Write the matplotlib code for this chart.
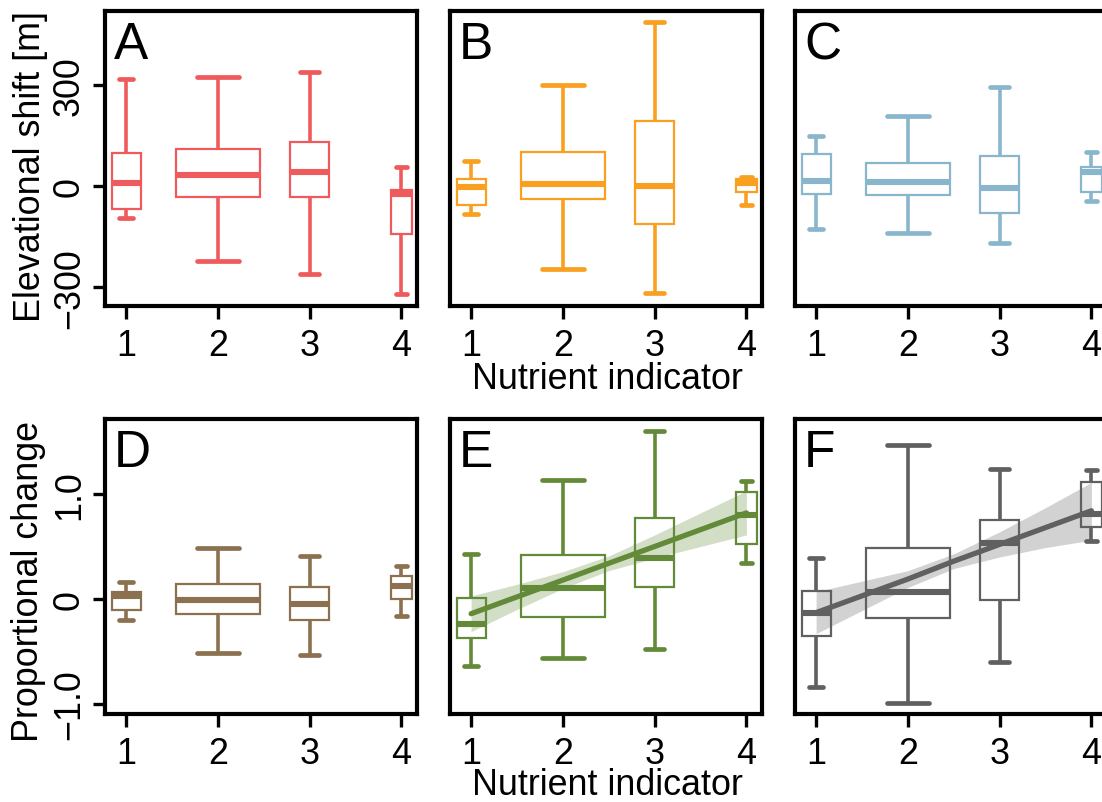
import matplotlib
matplotlib.use("Agg")
import matplotlib.pyplot as plt

plt.rcParams['font.family'] = ['Liberation Sans', 'DejaVu Sans']

# nutrient indicator classes (x axis)
nutrient = [1, 2, 3, 4]

# five-number summaries per class: [whisker low, q1, median, q3, whisker high]
# top row: elevational shift [m]
shift_a = [[-95, -68, 9, 98, 318],
           [-222, -33, 33, 110, 325],
           [-261, -33, 43, 132, 340],
           [-320, -143, -22, -11, 56]]
shift_b = [[-83, -56, -3, 21, 75],
           [-247, -39, 6, 102, 301],
           [-316, -113, -1, 192, 488],
           [-56, -17, 10, 20, 26]]
shift_c = [[-126, -24, 16, 95, 149],
           [-140, -26, 11, 70, 207],
           [-169, -80, -6, 88, 295],
           [-45, -16, 41, 56, 100]]

# bottom row: proportional change
prop_d = [[-0.20, -0.10, 0.03, 0.07, 0.165],
          [-0.51, -0.14, -0.01, 0.14, 0.49],
          [-0.53, -0.20, -0.05, 0.11, 0.41],
          [-0.16, 0.00, 0.12, 0.22, 0.31]]
prop_e = [[-0.64, -0.37, -0.24, 0.01, 0.43],
          [-0.56, -0.17, 0.105, 0.42, 1.13],
          [-0.48, 0.11, 0.39, 0.77, 1.60],
          [0.34, 0.52, 0.80, 1.02, 1.12]]
prop_f = [[-0.84, -0.35, -0.13, 0.08, 0.39],
          [-0.99, -0.18, 0.07, 0.49, 1.47],
          [-0.60, -0.01, 0.53, 0.755, 1.24],
          [0.55, 0.69, 0.81, 1.11, 1.23]]

# linear fits with confidence band (E and F)
fit_x = [1, 1.5, 2, 2.5, 3, 3.5, 4]
fit_e = [-0.14, 0.02, 0.18, 0.34, 0.50, 0.66, 0.82]
fit_e_lo = [-0.31, -0.10, 0.10, 0.27, 0.39, 0.50, 0.61]
fit_e_hi = [0.03, 0.14, 0.26, 0.41, 0.61, 0.82, 1.03]
fit_f = [-0.13, 0.03, 0.19, 0.36, 0.52, 0.68, 0.84]
fit_f_lo = [-0.33, -0.11, 0.11, 0.29, 0.40, 0.49, 0.56]
fit_f_hi = [0.07, 0.17, 0.27, 0.43, 0.64, 0.87, 1.11]

# box widths (varwidth look)
box_w = [0.315, 0.915, 0.425, 0.225]

FS = 25.8
W, H = 1102, 803
fig = plt.figure(figsize=(W / 100, H / 100), dpi=100)

def px_axes(left, top, right, bottom):
    return fig.add_axes([left / W, 1 - bottom / H, (right - left) / W, (bottom - top) / H])

def draw_panel(ax, data, color, letter, ylim):
    stats = [dict(whislo=s[0], q1=s[1], med=s[2], q3=s[3], whishi=s[4], fliers=[]) for s in data]
    ax.bxp(stats, positions=nutrient, widths=box_w, capwidths=[w / 2 for w in box_w],
           patch_artist=True, showfliers=False,
           boxprops=dict(edgecolor=color, facecolor='white', linewidth=1.6),
           whiskerprops=dict(color=color, linewidth=2.6, solid_capstyle='butt'),
           capprops=dict(color=color, linewidth=3.4, solid_capstyle='round'),
           medianprops=dict(color=color, linewidth=4.4, solid_capstyle='butt'))
    ax.set_xlim(0.77, 4.17)
    ax.set_ylim(*ylim)
    ax.set_xticks(nutrient)
    ax.set_xticklabels([str(n) for n in nutrient])
    ax.tick_params(axis='x', length=9, width=2.4, pad=7, labelsize=FS)
    for sp in ax.spines.values():
        sp.set_linewidth(3)
        sp.set_color('black')
    ax.annotate(letter, xy=(0, 1), xycoords='axes fraction', xytext=(9, -47),
                textcoords='offset pixels', ha='left', va='baseline', fontsize=37)

def fit_band(ax, y, lo, hi, color):
    ax.fill_between(fit_x, lo, hi, color=color, alpha=0.28, linewidth=0, zorder=3)
    ax.plot(fit_x, y, color=color, linewidth=3.8, solid_capstyle='round', zorder=4)

red, orange, blue = '#EF5A5C', '#F9A021', '#8AB6CD'
brown, green, grey = '#8B7150', '#638A38', '#606060'

lefts = [105, 450, 795]
ax_a = px_axes(lefts[0], 12, lefts[0] + 312, 307)
ax_b = px_axes(lefts[1], 12, lefts[1] + 312, 307)
ax_c = px_axes(lefts[2], 12, lefts[2] + 312, 307)
ax_d = px_axes(lefts[0], 420, lefts[0] + 312, 715)
ax_e = px_axes(lefts[1], 420, lefts[1] + 312, 715)
ax_f = px_axes(lefts[2], 420, lefts[2] + 312, 715)

top_lim = (-356, 520)
bot_lim = (-1.095, 1.714)
draw_panel(ax_a, shift_a, red, 'A', top_lim)
draw_panel(ax_b, shift_b, orange, 'B', top_lim)
draw_panel(ax_c, shift_c, blue, 'C', top_lim)
draw_panel(ax_d, prop_d, brown, 'D', bot_lim)
draw_panel(ax_e, prop_e, green, 'E', bot_lim)
draw_panel(ax_f, prop_f, grey, 'F', bot_lim)

fit_band(ax_e, fit_e, fit_e_lo, fit_e_hi, green)
fit_band(ax_f, fit_f, fit_f_lo, fit_f_hi, grey)

ax_a.set_yticks([-300, 0, 300])
ax_a.set_yticklabels(['\u2212300', '0', '300'])
ax_d.set_yticks([-1.0, 0, 1.0])
ax_d.set_yticklabels(['\u22121.0', '0', '1.0'])
for ax in (ax_a, ax_d):
    ax.tick_params(axis='y', length=9, width=2.4, pad=4, labelsize=FS)
    for lab in ax.get_yticklabels():
        lab.set_rotation(90)
        lab.set_va('center')
for ax in (ax_b, ax_c, ax_e, ax_f):
    ax.set_yticks([])

fig.text(31 / W, 1 - 167 / H, 'Elevational shift [m]', rotation=90, ha='center', va='center', fontsize=FS)
fig.text(29 / W, 1 - 582 / H, 'Proportional change', rotation=90, ha='center', va='center', fontsize=FS)
fig.text(607 / W, 1 - 389 / H, 'Nutrient indicator', ha='center', va='baseline', fontsize=FS)
fig.text(607 / W, 1 - 795 / H, 'Nutrient indicator', ha='center', va='baseline', fontsize=FS)

fig.savefig('out.png', dpi=100)
